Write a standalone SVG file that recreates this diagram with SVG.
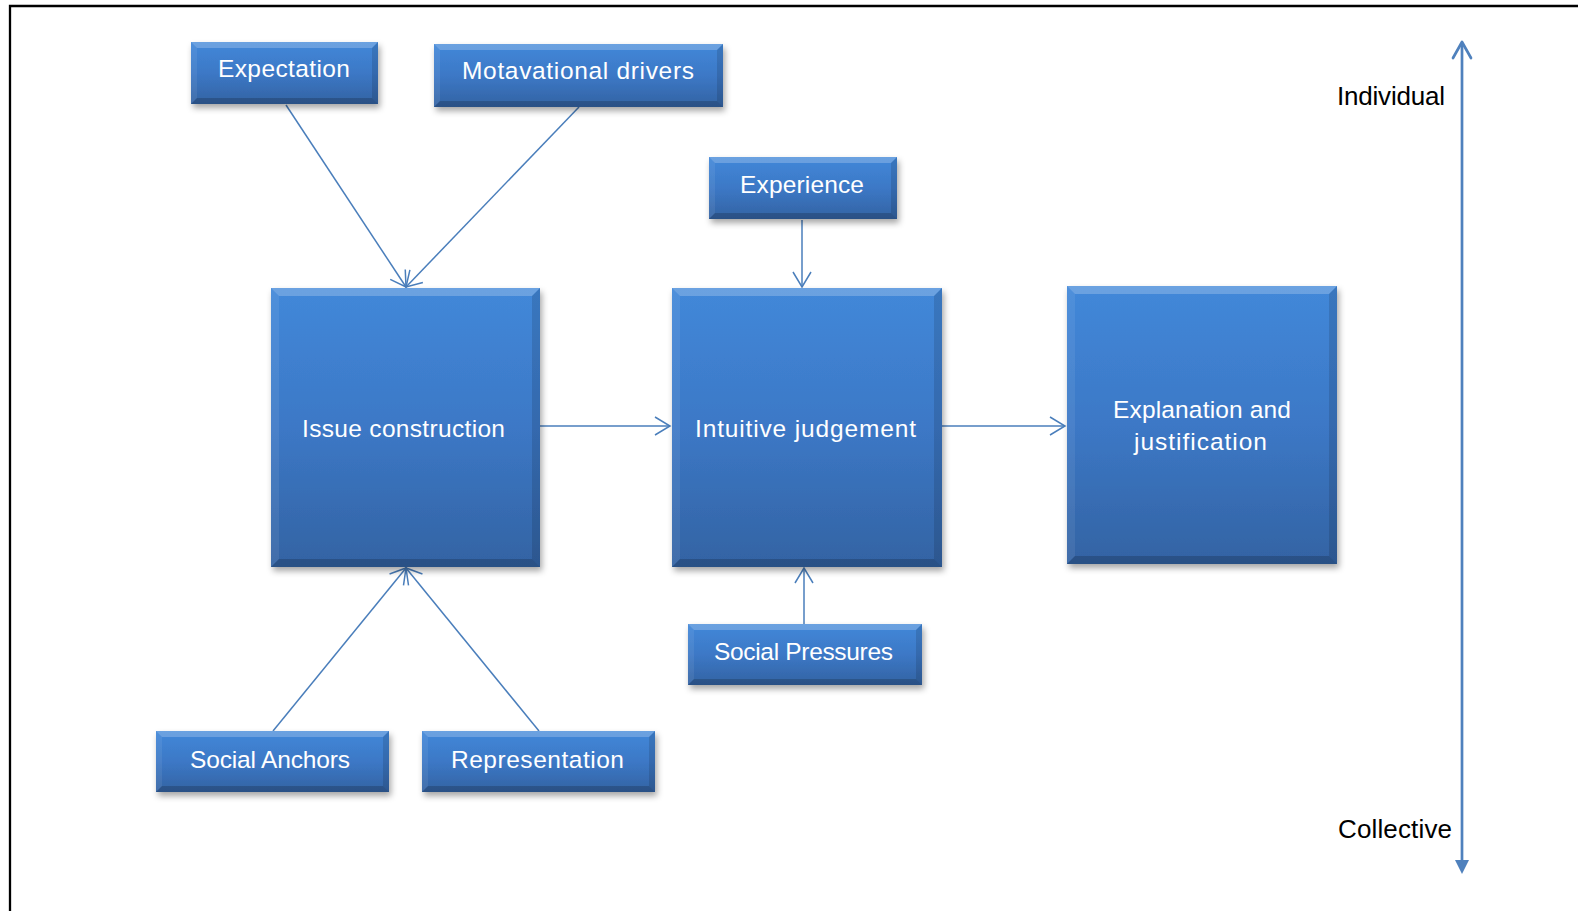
<svg xmlns="http://www.w3.org/2000/svg" width="1578" height="911" viewBox="0 0 1578 911">
<style>
.box{fill:url(#g);filter:url(#sh)}
.bt{fill:#ffffff;opacity:.22}
.bl{fill:#ffffff;opacity:.07}
.br{fill:#000000;opacity:.12}
.bb{fill:#000000;opacity:.18}
.lbl{font-family:"Liberation Sans",Arial,sans-serif;font-size:24.5px;fill:#ffffff;text-anchor:middle}
.axl{font-family:"Liberation Sans",Arial,sans-serif;font-size:26px;fill:#000000}
.con{stroke:#4a7ebb;stroke-width:1.5;fill:none;marker-end:url(#ah)}
</style>
<defs>
<linearGradient id="g" x1="0" y1="0" x2="0" y2="1">
<stop offset="0" stop-color="#4288d9"/>
<stop offset="0.5" stop-color="#3c78c6"/>
<stop offset="1" stop-color="#3363a3"/>
</linearGradient>
<filter id="sh" x="-10%" y="-10%" width="125%" height="130%">
<feGaussianBlur in="SourceAlpha" stdDeviation="3"/>
<feOffset dx="2" dy="4" result="o"/>
<feFlood flood-color="#000000" flood-opacity="0.35"/>
<feComposite in2="o" operator="in"/>
<feMerge><feMergeNode/><feMergeNode in="SourceGraphic"/></feMerge>
</filter>
<marker id="ah" markerUnits="userSpaceOnUse" markerWidth="20" markerHeight="22" viewBox="-17 -11 19 22" refX="0" refY="0" orient="auto">
<path d="M-15,-9 L0,0 L-15,9" fill="none" stroke="#4a7ebb" stroke-width="1.5"/>
</marker>
</defs>
<rect x="0" y="0" width="1578" height="911" fill="#ffffff"/>
<path d="M10,911 V6 H1578" fill="none" stroke="#000000" stroke-width="2.3"/>

<g id="connectors">
<line class="con" x1="286" y1="105" x2="406" y2="287"/>
<line class="con" x1="579" y1="107" x2="406" y2="287"/>
<line class="con" x1="802" y1="220" x2="802" y2="287"/>
<line class="con" x1="273" y1="731" x2="406" y2="568"/>
<line class="con" x1="539" y1="731" x2="406" y2="568"/>
<line class="con" x1="804" y1="624" x2="804" y2="568"/>
<line class="con" x1="540" y1="426" x2="670" y2="426"/>
<line class="con" x1="942" y1="426" x2="1065" y2="426"/>
</g>

<g id="axis">
<line x1="1462" y1="862" x2="1462" y2="43" stroke="#4f81bd" stroke-width="2.7"/>
<path d="M1453,58 L1462,42 L1471,58" fill="none" stroke="#4f81bd" stroke-width="2.7" stroke-linecap="round" stroke-linejoin="round"/>
<path d="M1455,860 L1469,860 L1462,874 Z" fill="#4f81bd"/>
<text class="axl" x="1337" y="105" textLength="108">Individual</text>
<text class="axl" x="1338" y="838" textLength="114">Collective</text>
</g>

<g id="expectation">
<rect class="box" x="191" y="42" width="187" height="62"/>
<polygon class="bt" points="191,42 378,42 372,48 197,48"/>
<polygon class="bl" points="191,42 197,48 197,98 191,104"/>
<polygon class="br" points="378,42 378,104 372,98 372,48"/>
<polygon class="bb" points="191,104 197,98 372,98 378,104"/>
<text class="lbl" x="284" y="77" textLength="132">Expectation</text>
</g>

<g id="motavational">
<rect class="box" x="434" y="44" width="289" height="63"/>
<polygon class="bt" points="434,44 723,44 717,50 440,50"/>
<polygon class="bl" points="434,44 440,50 440,101 434,107"/>
<polygon class="br" points="723,44 723,107 717,101 717,50"/>
<polygon class="bb" points="434,107 440,101 717,101 723,107"/>
<text class="lbl" x="578" y="78.5" textLength="232">Motavational drivers</text>
</g>

<g id="experience">
<rect class="box" x="709" y="157" width="188" height="62"/>
<polygon class="bt" points="709,157 897,157 891,163 715,163"/>
<polygon class="bl" points="709,157 715,163 715,213 709,219"/>
<polygon class="br" points="897,157 897,219 891,213 891,163"/>
<polygon class="bb" points="709,219 715,213 891,213 897,219"/>
<text class="lbl" x="802" y="193" textLength="124">Experience</text>
</g>

<g id="issue">
<rect class="box" x="271" y="288" width="269" height="279"/>
<polygon class="bt" points="271,288 540,288 532,296 279,296"/>
<polygon class="bl" points="271,288 279,296 279,559 271,567"/>
<polygon class="br" points="540,288 540,567 532,559 532,296"/>
<polygon class="bb" points="271,567 279,559 532,559 540,567"/>
<text class="lbl" x="403.5" y="436.5" textLength="203">Issue construction</text>
</g>

<g id="intuitive">
<rect class="box" x="672" y="288" width="270" height="279"/>
<polygon class="bt" points="672,288 942,288 934,296 680,296"/>
<polygon class="bl" points="672,288 680,296 680,559 672,567"/>
<polygon class="br" points="942,288 942,567 934,559 934,296"/>
<polygon class="bb" points="672,567 680,559 934,559 942,567"/>
<text class="lbl" x="805.5" y="436.5" textLength="221">Intuitive judgement</text>
</g>

<g id="explanation">
<rect class="box" x="1067" y="286" width="270" height="278"/>
<polygon class="bt" points="1067,286 1337,286 1329,294 1075,294"/>
<polygon class="bl" points="1067,286 1075,294 1075,556 1067,564"/>
<polygon class="br" points="1337,286 1337,564 1329,556 1329,294"/>
<polygon class="bb" points="1067,564 1075,556 1329,556 1337,564"/>
<text class="lbl" x="1202" y="418" textLength="178">Explanation and</text>
<text class="lbl" x="1200.5" y="450" textLength="133">justification</text>
</g>

<g id="socialpressures">
<rect class="box" x="688" y="624" width="234" height="61"/>
<polygon class="bt" points="688,624 922,624 916,630 694,630"/>
<polygon class="bl" points="688,624 694,630 694,679 688,685"/>
<polygon class="br" points="922,624 922,685 916,679 916,630"/>
<polygon class="bb" points="688,685 694,679 916,679 922,685"/>
<text class="lbl" x="803.5" y="660" textLength="179">Social Pressures</text>
</g>

<g id="socialanchors">
<rect class="box" x="156" y="731" width="233" height="61"/>
<polygon class="bt" points="156,731 389,731 383,737 162,737"/>
<polygon class="bl" points="156,731 162,737 162,786 156,792"/>
<polygon class="br" points="389,731 389,792 383,786 383,737"/>
<polygon class="bb" points="156,792 162,786 383,786 389,792"/>
<text class="lbl" x="270" y="768" textLength="160">Social Anchors</text>
</g>

<g id="representation">
<rect class="box" x="422" y="731" width="233" height="61"/>
<polygon class="bt" points="422,731 655,731 649,737 428,737"/>
<polygon class="bl" points="422,731 428,737 428,786 422,792"/>
<polygon class="br" points="655,731 655,792 649,786 649,737"/>
<polygon class="bb" points="422,792 428,786 649,786 655,792"/>
<text class="lbl" x="537.5" y="768" textLength="173">Representation</text>
</g>
</svg>
